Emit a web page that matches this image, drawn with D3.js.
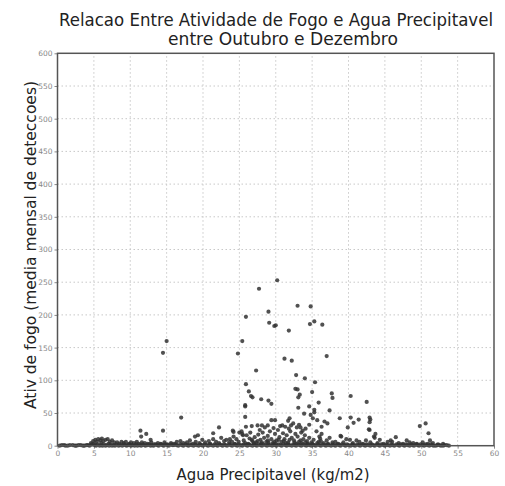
<!DOCTYPE html>
<html><head><meta charset="utf-8">
<script src="https://cdn.jsdelivr.net/npm/d3@7"></script>
<style>body{margin:0;background:#fff}svg{display:block}</style>
</head><body>
<svg id="c" width="505" height="486"></svg>
<script>
const titleLines = ["Relacao Entre Atividade de Fogo e Agua Precipitavel", "entre Outubro e Dezembro"];
const xLabel = "Agua Precipitavel (kg/m2)";
const yLabel = "Ativ de fogo (media mensal de deteccoes)";
const xTicks = [0,5,10,15,20,25,30,35,40,45,50,55,60];
const yTicks = [0,50,100,150,200,250,300,350,400,450,500,550,600];

// [precipitable water, fire activity]
const highPoints = [[30.2,253],[27.7,240],[33.0,214],[34.8,213],[25.9,197],[29.0,205],[29.1,188],[29.8,183],[30.0,184],[31.8,176],[34.7,186],[35.3,190],[36.4,185],[25.4,160],[24.8,141],[31.2,133],[32.2,130],[37.0,137],[15.0,160],[14.5,142],
[27.3,115],[32.8,108],[34.0,103],[35.4,97],[25.9,94],[32.7,87],[33.0,86],[26.3,83],[26.6,76],[26.8,74],[35.0,82],[33.3,78],[33.1,74],[37.7,80],[37.8,73],[40.3,76],[42.5,67],[28.0,71],[29.0,69],[29.4,64],[25.8,62],[25.8,60],[35.9,66],[33.1,58],[34.6,60],[35.3,55],[35.3,51],[33.9,49],[37.4,54],[25.8,44],[34.8,47],[35.1,42],[38.8,42],[40.3,43],[35.7,39],[41.4,40],[42.9,43],[40.7,35],[36.7,37],[37.1,34],[29.4,39],[29.9,39],[31.9,42],[31.7,38],[30.9,31],[31.3,29],[27.5,31],[28.1,31],[28.9,31],[25.9,29],[26.7,30],[33.2,32],[33.4,28],[32.9,28],[32.4,34],[32.1,31],[34.1,26],[34.6,32],[36.3,29],[38.9,15],[39.9,28],[42.8,25],[43.7,18],[43.5,14],[46.5,13],[36.0,14],[36.1,11],[24.2,21],[25.0,20],[25.5,16],
[17.0,43],[11.4,23],[12.2,18],[14.5,23],[11.5,14],[12.8,9],[22.2,28],[24.1,23],[21.4,19],[19.3,16],[18.9,14],
[43.0,40],[42.9,36],[42.9,24],[43.6,12],[44.3,9],[49.8,30],[50.6,34],[51.0,19],[51.2,8],[48.0,8],[48.4,5],[39.0,14],[40.2,9],[41.1,8],[45.4,6],[46.0,6]];

const lowLeft = [[4.6,4],[4.9,7],[5.2,9],[5.4,6],[5.6,10],[5.9,8],[6.1,11],[6.3,7],[6.6,9],[6.9,10],[7.2,6],[7.5,8],[5.0,3],[6.0,4],[7.0,3],[7.8,5],
[8.2,5],[8.5,3],[8.8,6],[9.1,4],[9.4,6],[9.8,3],[10.1,5],[10.5,4],[10.9,6],[11.2,3],[11.6,5],[12.0,4],
[12.4,3],[12.9,5],[13.3,2],[13.8,4],[14.2,3],[14.7,5],[15.1,2],[15.6,4],[16.0,3],[16.4,6],[16.9,7],[17.3,4],[17.8,5],[18.2,8],[18.6,3],[19.0,6],[19.5,4],[19.9,9],[20.3,5],[20.8,7],
[21.0,3],[21.4,10],[21.8,6],[22.2,4],[22.5,12],[22.9,7],[23.2,9],[23.6,5],[23.7,10],[24.0,6],[24.6,10],[24.4,3]];

const lowCenter = [[24.2,14],[25.3,22],[25.4,18],[26.0,16],[26.4,11],[26.8,7],[27.1,13],[27.3,5],[27.6,17],[27.9,9],[28.2,20],[28.4,12],[28.7,6],[28.9,15],[29.2,22],[29.4,10],[29.6,4],[29.9,18],[30.1,8],[30.3,24],[30.5,13],[30.8,6],[31.0,19],[31.2,10],[31.5,16],[31.7,5],[32.0,22],[32.2,12],[32.5,8],[32.7,18],[33.0,14],[33.2,6],[33.5,20],[33.8,10],[34.0,16],[34.3,7],[34.6,12],[34.9,5],[35.2,9],[35.6,22],[35.9,6],[36.3,18],[36.6,4],[37.0,8],[37.4,12],[37.8,5],[26.2,3],[27.0,4],[28.0,3],[29.0,5],[30.0,3],[31.4,4],[32.8,3],[33.6,4],[34.4,3],[25.6,8],[26.5,20],[27.8,24],[29.7,27],[31.8,26],[33.7,23],[30.6,30],[28.5,28],
[24.9,6],[25.8,4],[26.7,9],[27.5,7],[28.1,5],[28.9,8],[29.8,6],[30.4,9],[31.1,7],[31.9,9],[32.6,5],[33.4,8],[34.1,5],[35.0,3],[35.7,4],[36.2,7],[37.2,3]];

const lowRight = [[38.2,6],[38.6,3],[39.3,5],[39.7,10],[40.6,4],[41.5,6],[42.0,3],[42.4,8],[43.0,5],[44.0,4],[44.8,3],[45.8,8],[46.9,4],[47.5,3],[48.9,4],[49.4,3],[50.2,5],[50.9,3],[51.6,4],[52.3,2],[53.0,3]];

const baseline = [[0.3,0],[0.9,1],[1.4,0],[2.1,1],[2.6,0],[3.2,1],[3.7,0],[4.2,1],[4.7,2],[5.1,1],[5.5,2],[6.0,1],[6.4,2],[6.8,1],[7.3,2],[7.7,1],[8.1,2],[8.6,1],[9.1,2],[9.5,0],[9.9,2],[10.3,1],[10.8,2],[11.3,1],[11.7,2],[12.1,0],[12.6,2],[13.0,1],[13.5,2],[13.9,0],[14.4,1],[14.8,2],[15.3,0],[15.8,1],[16.2,2],[16.6,0],[17.1,1],[17.6,2],[18.0,0],[18.4,1],[18.9,2],[19.4,0],[19.8,1],[20.2,2],[20.7,0],[21.1,1],[21.6,2],[22.0,0],[22.5,1],[22.9,2],[23.3,0],[23.8,1],[24.3,2],[24.7,0],[25.2,1],[25.6,2],[26.1,0],[26.5,1],[27.0,2],[27.4,0],[27.9,1],[28.3,2],[28.8,0],[29.2,1],[29.7,2],[30.1,0],[30.6,1],[31.0,2],[31.5,0],[31.9,1],[32.4,2],[32.8,0],[33.3,1],[33.7,2],[34.2,0],[34.6,1],[35.1,2],[35.5,0],[36.0,1],[36.4,2],[36.9,0],[37.3,1],[37.8,2],[38.2,0],[38.7,1],[39.1,2],[39.6,0],[40.0,1],[40.5,2],[40.9,0],[41.4,1],[41.8,2],[42.3,0],[42.7,1],[43.2,2],[43.6,0],[44.1,1],[44.5,2],[45.0,0],[45.4,1],[45.9,2],[46.3,0],[46.8,1],[47.2,2],[47.7,0],[48.1,1],[48.6,2],[49.0,0],[49.5,1],[49.9,2],[50.4,0],[50.8,1],[51.3,2],[51.7,0],[52.2,1],[52.7,0],[53.2,1],[53.8,0],
[0.6,1],[1.1,0],[1.7,1],[2.4,0],[2.9,1],[3.5,0],[4.0,1],[4.4,0],[5.3,0],[5.8,0],[6.2,0],[6.6,0],[7.1,0],[7.5,0],[7.9,0],[8.4,0],[8.9,0],[9.3,1],[9.7,1],[10.1,0],[10.6,0],[11.0,0],[11.5,0],[11.9,1],[12.4,1],[12.8,0],[13.2,0],[13.7,1],[14.2,2],[14.6,0],[15.1,1],[15.6,2],[16.0,1],[16.4,1],[16.9,2],[17.3,0],[17.8,1],[18.2,2],[18.7,0],[19.1,1],[19.6,2],[20.0,0],[20.5,1],[20.9,2],[21.4,0],[21.8,1],[22.3,2],[22.7,0],[23.1,1],[23.6,2],[24.0,0],[24.5,1],[24.9,2],[25.4,0],[25.9,1],[26.3,2],[26.8,0],[27.2,1],[27.7,2],[28.1,0],[28.6,1],[29.0,2],[29.5,0],[29.9,1],[30.4,2],[30.8,0],[31.3,1],[31.7,2],[32.2,0],[32.6,1],[33.1,2],[33.5,0],[34.0,1],[34.4,2],[34.9,0],[35.3,1],[35.8,2],[36.2,0],[36.7,1],[37.1,2],[37.6,0],[38.0,1],[38.5,2],[38.9,0],[39.4,1],[39.8,2],[40.3,0],[40.7,1],[41.2,2],[41.6,0],[42.1,1],[42.5,2],[43.0,0],[43.4,1],[43.9,2],[44.3,0],[44.8,1],[45.2,2],[45.7,0],[46.1,1],[46.6,2],[47.0,0],[47.5,1],[47.9,2],[48.4,0],[48.8,1],[49.3,2],[49.7,0],[50.2,1],[50.6,2],[51.1,0],[51.5,1],[52.0,0],[52.5,1],[53.0,0],[53.5,1]];

const svg = d3.select("#c");
const x = d3.scaleLinear().domain([0,60]).range([57.5,494]);
const y = d3.scaleLinear().domain([0,600]).range([445.7,53.3]);

// grid
const grid = svg.append("g").attr("stroke","#c8c8c8").attr("stroke-width",1).attr("stroke-dasharray","1.5,2.5");
grid.selectAll("line.v").data(xTicks.slice(1,-1)).join("line")
  .attr("x1",d=>x(d)).attr("x2",d=>x(d)).attr("y1",y(0)).attr("y2",y(600));
grid.selectAll("line.h").data(yTicks.slice(1,-1)).join("line")
  .attr("y1",d=>y(d)).attr("y2",d=>y(d)).attr("x1",x(0)).attr("x2",x(60));

// axes
const xa = svg.append("g").attr("transform",`translate(0,${y(0)})`)
  .call(d3.axisBottom(x).tickValues(xTicks).tickSize(3).tickPadding(2));
const ya = svg.append("g").attr("transform",`translate(${x(0)},0)`)
  .call(d3.axisLeft(y).tickValues(yTicks).tickSize(3).tickPadding(2));
[xa,ya].forEach(a=>{
  a.select(".domain").remove();
  a.selectAll("line").attr("stroke","#888");
  a.selectAll("text").attr("fill","#888").style("font-family","DejaVu Sans, sans-serif").style("font-size","7.5px");
});

// points
const allPts = [].concat(baseline, lowLeft, lowCenter, lowRight, highPoints);
svg.append("g").selectAll("circle").data(allPts).join("circle")
  .attr("cx",d=>x(d[0])).attr("cy",d=>y(d[1])).attr("r",2.1)
  .attr("fill","#333").attr("fill-opacity",0.85);

// frame
svg.append("rect").attr("x",x(0)).attr("y",y(600)).attr("width",x(60)-x(0)).attr("height",y(0)-y(600))
  .attr("fill","none").attr("stroke","#555").attr("stroke-width",1.5);

// titles
const font = "DejaVu Sans, sans-serif";
svg.append("text").attr("x",276).attr("y",26).attr("text-anchor","middle")
  .attr("textLength",434).attr("lengthAdjust","spacingAndGlyphs")
  .style("font-family",font).style("font-size","17px").attr("fill","#222").text(titleLines[0]);
svg.append("text").attr("x",283).attr("y",45).attr("text-anchor","middle")
  .attr("textLength",230).attr("lengthAdjust","spacingAndGlyphs")
  .style("font-family",font).style("font-size","17px").attr("fill","#222").text(titleLines[1]);
svg.append("text").attr("x",273).attr("y",480).attr("text-anchor","middle")
  .attr("textLength",193).attr("lengthAdjust","spacingAndGlyphs")
  .style("font-family",font).style("font-size","16px").attr("fill","#222").text(xLabel);
svg.append("text").attr("transform","translate(36,245) rotate(-90)").attr("text-anchor","middle")
  .attr("textLength",328).attr("lengthAdjust","spacingAndGlyphs")
  .style("font-family",font).style("font-size","16px").attr("fill","#222").text(yLabel);
</script>
</body></html>
